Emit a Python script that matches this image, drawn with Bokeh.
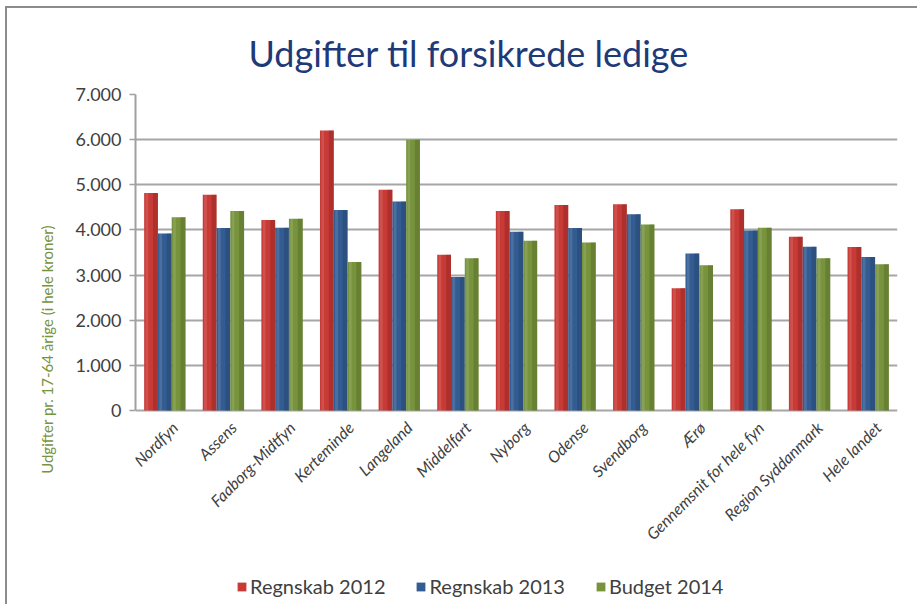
from math import pi
from bokeh.plotting import figure
from bokeh.models import ColumnDataSource, FactorRange, FixedTicker, Legend, LegendItem, Range1d
from bokeh.transform import dodge
from bokeh.core.properties import value
from bokeh.embed import file_html
from bokeh.resources import INLINE

categories = ["Nordfyn", "Assens", "Faaborg-Midtfyn", "Kerteminde", "Langeland", "Middelfart",
              "Nyborg", "Odense", "Svendborg", "Ærø", "Gennemsnit for hele fyn",
              "Region Syddanmark", "Hele landet"]
regnskab_2012 = [4820, 4780, 4220, 6200, 4890, 3450, 4420, 4550, 4570, 2710, 4460, 3850, 3620]
regnskab_2013 = [3920, 4040, 4050, 4440, 4630, 2960, 3960, 4040, 4350, 3480, 3990, 3630, 3400]
budget_2014 = [4280, 4420, 4250, 3290, 6000, 3370, 3760, 3720, 4120, 3220, 4050, 3370, 3240]
series_names = ["Regnskab 2012", "Regnskab 2013", "Budget 2014"]
y_ticks = [0, 1000, 2000, 3000, 4000, 5000, 6000, 7000]
y_tick_labels = ["0", "1.000", "2.000", "3.000", "4.000", "5.000", "6.000", "7.000"]

FONT = "Lato"
colors = ["#C83A36", "#335D92", "#77933C"]
dark = ["#8E2523", "#23426A", "#546A28"]

src = ColumnDataSource(dict(cat=categories, r12=regnskab_2012, r13=regnskab_2013, b14=budget_2014))

Y_MAX = 7000
PX_PER_UNIT = 316 / Y_MAX          # axis 0..7000 spans 316 px
BELOW_PX = 194                     # room under the zero line for labels + legend

p = figure(x_range=FactorRange(*categories, range_padding=0.0),
           y_range=Range1d(-BELOW_PX / PX_PER_UNIT, Y_MAX),
           frame_width=762, frame_height=316 + BELOW_PX, output_backend="svg", toolbar_location=None,
           title="Udgifter til forsikrede ledige",
           min_border_left=128, min_border_right=20, min_border_top=85, min_border_bottom=0)
p.styles = {"border-left": "2px solid #8C8C8C", "border-top": "2px solid #8C8C8C",
            "margin-left": "5px", "margin-top": "6px"}

p.title.align = "left"
p.title.offset = 113
p.title.standoff = 40
p.title.text_font = FONT
p.title.text_font_size = "36px"
p.title.text_font_style = "normal"
p.title.text_color = "#1F3A78"

fields = ["r12", "r13", "b14"]
offs = [-0.235, 0.0, 0.235]
bw = 0.235
renderers = []
for f, o, c, d in zip(fields, offs, colors, dark):
    r = p.vbar(x=dodge("cat", o, range=p.x_range), top=f, width=bw, bottom=0, source=src,
               fill_color=c, line_color=None)
    renderers.append(r)
    p.vbar(x=dodge("cat", o + bw * 0.32, range=p.x_range), top=f, width=bw * 0.36, bottom=0,
           source=src, fill_color=d, fill_alpha=0.45, line_color=None)
    p.vbar(x=dodge("cat", o - bw * 0.3, range=p.x_range), top=f, width=bw * 0.2, bottom=0,
           source=src, fill_color="white", fill_alpha=0.12, line_color=None)

# category labels under the floor, rotated 45 degrees
p.text(x=dodge("cat", 0.17, range=p.x_range), y=0, text="cat", source=src,
       angle=pi / 4, text_align="right", text_baseline="middle", y_offset=14,
       text_font=value(FONT), text_font_size="16px", text_font_style="italic",
       text_color="#404040")

p.yaxis.ticker = FixedTicker(ticks=y_ticks)
p.yaxis.bounds = (0, Y_MAX)
p.yaxis.major_label_overrides = {t: l for t, l in zip(y_ticks, y_tick_labels)}
p.yaxis.major_label_text_font = FONT
p.yaxis.major_label_text_font_size = "18px"
p.yaxis.major_label_text_color = "#404040"
p.yaxis.axis_label = "Udgifter pr. 17-64 årige (i hele kroner)"
p.yaxis.axis_label_text_font = FONT
p.yaxis.axis_label_text_font_size = "15px"
p.yaxis.axis_label_text_font_style = "normal"
p.yaxis.axis_label_text_color = "#77933C"
p.yaxis.axis_label_standoff = 16
p.yaxis.major_label_standoff = 8
p.yaxis.axis_line_color = "#A0A0A0"
p.yaxis.axis_line_width = 2
p.yaxis.major_tick_line_color = "#A0A0A0"
p.yaxis.major_tick_line_width = 1.5
p.yaxis.major_tick_out = 6
p.yaxis.major_tick_in = 0
p.yaxis.minor_tick_line_color = None
p.xaxis.visible = False

p.xgrid.grid_line_color = None
p.ygrid.grid_line_color = "#A6A6A6"
p.ygrid.grid_line_width = 2
p.outline_line_color = None

legend = Legend(items=[LegendItem(label=n, renderers=[r]) for n, r in zip(series_names, renderers)],
                orientation="horizontal", location=(101, 6))
legend.label_text_font = FONT
legend.label_text_font_size = "20px"
legend.label_text_color = "#404040"
legend.glyph_width = 11
legend.glyph_height = 11
legend.spacing = 30
legend.label_standoff = 3
legend.border_line_color = None
legend.background_fill_alpha = 0
legend.padding = 2
legend.margin = 0
p.add_layout(legend, "center")

open("out.html", "w").write(file_html(p, INLINE))
